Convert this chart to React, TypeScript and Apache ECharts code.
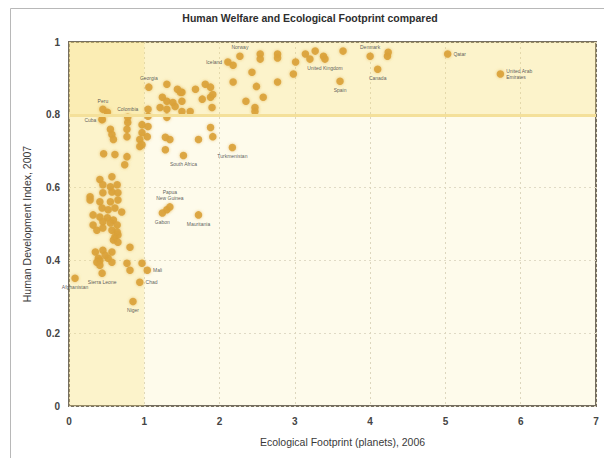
import React, { useEffect, useRef } from "react";
import * as echarts from "echarts";

// Ecological Footprint (planets), 2006  /  Human Development Index, 2007
const footprint = [
  2.18, 2.54, 2.54, 2.77, 2.77, 3.01, 3.14, 2.43, 2.18, 2.49, 2.77, 2.98, 2.35, 2.58, 2.47, 2.47,
  1.90, 1.68, 1.81, 1.88, 1.77, 1.88, 1.91, 1.61, 1.50, 1.50, 1.88, 1.91, 1.72,
  1.30, 1.44, 1.48, 1.24, 1.30, 1.38, 1.21, 1.30, 1.41, 1.50, 1.30, 1.05, 1.05,
  0.78, 0.77, 0.97, 1.05, 0.97, 1.04, 0.51, 0.44, 0.55, 0.57, 0.59, 0.77, 0.94, 0.94,
  1.28, 1.34, 0.46, 0.61, 0.77, 0.74, 1.28, 0.97,
  3.20, 3.27, 3.38, 3.64, 4.23, 4.24,
  0.41, 0.57, 0.45, 0.55, 0.64, 0.45, 0.57, 0.65, 0.28, 0.28, 0.41, 0.55, 0.65,
  0.44, 0.52, 0.61, 0.70, 0.32, 0.41, 0.51, 0.59, 0.32, 0.45, 0.55, 0.64,
  0.37, 0.45, 0.57, 0.64, 0.61, 0.65, 0.59, 0.65, 0.81, 0.35, 0.45, 0.57, 0.39, 0.52,
  1.30,
  0.41, 0.48, 0.57, 0.37, 0.41, 0.77, 0.81, 0.97,
];
const hdi = [
  0.936, 0.967, 0.953, 0.967, 0.956, 0.945, 0.967, 0.917, 0.890, 0.878, 0.890, 0.912, 0.837, 0.848, 0.820, 0.809,
  0.820, 0.870, 0.884, 0.876, 0.843, 0.848, 0.856, 0.809, 0.862, 0.837, 0.765, 0.740, 0.732,
  0.884, 0.870, 0.862, 0.848, 0.837, 0.834, 0.820, 0.815, 0.823, 0.809, 0.793, 0.815, 0.796,
  0.779, 0.760, 0.773, 0.768, 0.751, 0.740, 0.807, 0.787, 0.760, 0.746, 0.732, 0.740, 0.732, 0.713,
  0.738, 0.732, 0.693, 0.691, 0.685, 0.663, 0.704, 0.718,
  0.953, 0.975, 0.961, 0.975, 0.961, 0.972,
  0.622, 0.630, 0.608, 0.602, 0.608, 0.586, 0.588, 0.586, 0.575, 0.566, 0.561, 0.561, 0.566,
  0.544, 0.539, 0.544, 0.533, 0.525, 0.519, 0.517, 0.511, 0.497, 0.506, 0.503, 0.497,
  0.483, 0.489, 0.483, 0.478, 0.464, 0.470, 0.456, 0.450, 0.436, 0.423, 0.428, 0.423, 0.406, 0.406,
  0.539,
  0.400, 0.414, 0.395, 0.395, 0.387, 0.392, 0.373, 0.392,
];

// Labelled countries
const labelNames = [
  "Norway", "Iceland", "Georgia", "Peru", "Colombia", "Cuba", "Turkmenistan", "South Africa",
  "Papua\nNew Guinea", "Gabon", "Mauritania", "Sierra Leone", "Afghanistan", "Mali", "Chad", "Niger",
  "United Kingdom", "Spain", "Denmark", "Canada", "Qatar", "United Arab\nEmirates",
];
const labelFootprint = [
  2.27, 2.11, 1.06, 0.45, 0.78, 0.44, 2.17, 1.52,
  1.34, 1.24, 1.72, 0.44, 0.08, 1.04, 0.94, 0.85,
  3.40, 3.60, 4.00, 4.10, 5.03, 5.73,
];
const labelHdi = [
  0.961, 0.945, 0.876, 0.815, 0.793, 0.787, 0.710, 0.688,
  0.547, 0.530, 0.525, 0.365, 0.351, 0.373, 0.340, 0.287,
  0.953, 0.892, 0.961, 0.925, 0.967, 0.912,
];

const xTicks = ["0", "1", "2", "3", "4", "5", "6", "7"];
const yTicks = ["0", "0.2", "0.4", "0.6", "0.8", "1"];

// label placement (style only)
const labelPlacement: Record<string, { position: string; offset?: number[] }> = {
  Norway: { position: "top", offset: [0, -1] },
  Iceland: { position: "left", offset: [0, -6] },
  Georgia: { position: "top", offset: [-3, 0] },
  Peru: { position: "top", offset: [-2, 0] },
  Colombia: { position: "top", offset: [0, -4] },
  Cuba: { position: "left", offset: [2, 8] },
  Turkmenistan: { position: "bottom" },
  "South Africa": { position: "bottom" },
  "Papua\nNew Guinea": { position: "top", offset: [4, -2] },
  Gabon: { position: "bottom", offset: [-3, 0] },
  Mauritania: { position: "bottom", offset: [-4, 0] },
  "Sierra Leone": { position: "bottom" },
  Afghanistan: { position: "bottom", offset: [12, 0] },
  Mali: { position: "right" },
  Chad: { position: "right" },
  Niger: { position: "bottom" },
  "United Kingdom": { position: "bottom", offset: [14, 0] },
  Spain: { position: "bottom" },
  Denmark: { position: "top", offset: [-4, 0] },
  Canada: { position: "bottom" },
  Qatar: { position: "right" },
  "United Arab\nEmirates": { position: "right" },
};

const FONT = "'Liberation Sans', Arial, sans-serif";
const DOT = "#daa23a";

export default function App() {
  const ref = useRef<HTMLDivElement>(null);
  useEffect(() => {
    if (!ref.current) return;
    const chart = echarts.init(ref.current, null, { renderer: "svg" });
    const points = footprint.map((x, i) => [x, hdi[i]]);
    const labelled = labelNames.map((n, i) => {
      const p = labelPlacement[n] || { position: "right" };
      return {
        name: n,
        value: [labelFootprint[i], labelHdi[i]],
        label: {
          show: true,
          formatter: n,
          position: p.position,
          offset: p.offset || [0, 0],
          distance: 2,
          fontSize: 5,
          lineHeight: 6,
          color: "#4a4a4a",
          fontFamily: FONT,
        },
      };
    });
    const dotStyle = {
      color: DOT,
      opacity: 0.9,
      shadowBlur: 3,
      shadowColor: "rgba(215,155,45,0.6)",
    };
    chart.setOption({
      animation: false,
      backgroundColor: "#ffffff",
      graphic: [
        {
          type: "rect",
          shape: { x: 10.5, y: 8.5, width: 600, height: 470 },
          style: { fill: "none", stroke: "#b8b8b8", lineWidth: 1 },
          z: -10,
        },
        {
          type: "text",
          x: 310,
          y: 18,
          style: {
            text: "Human Welfare and Ecological Footprint compared",
            textAlign: "center",
            textVerticalAlign: "middle",
            fontSize: 10.5,
            fontWeight: "bold",
            fill: "#2e2e2e",
            fontFamily: FONT,
          },
        },
      ],
      grid: {
        left: 69,
        right: 8,
        top: 42,
        bottom: 52,
        show: true,
        backgroundColor: "#fefbeb",
        borderColor: "#756e60",
        borderWidth: 2,
      },
      xAxis: {
        type: "value",
        min: 0,
        max: 7,
        interval: 1,
        name: "Ecological Footprint (planets), 2006",
        nameLocation: "middle",
        nameGap: 30,
        nameTextStyle: { fontSize: 10.5, color: "#3a3a3a", fontFamily: FONT, padding: [0, 0, 0, 20] },
        axisLine: { show: false },
        axisTick: { show: false },
        axisLabel: {
          fontSize: 10,
          fontWeight: "bold",
          color: "#444",
          fontFamily: FONT,
          margin: 10,
          formatter: (v: number) => xTicks[Math.round(v)] ?? String(v),
        },
        splitLine: { show: true, lineStyle: { color: "#ddd6bd", type: [2, 3], width: 1 } },
      },
      yAxis: {
        type: "value",
        min: 0,
        max: 1,
        interval: 0.2,
        name: "Human Development Index, 2007",
        nameLocation: "middle",
        nameGap: 37,
        nameTextStyle: { fontSize: 10.5, color: "#3a3a3a", fontFamily: FONT },
        axisLine: { show: false },
        axisTick: { show: false },
        axisLabel: {
          fontSize: 10,
          fontWeight: "bold",
          color: "#444",
          fontFamily: FONT,
          margin: 9,
          formatter: (v: number) => yTicks[Math.round(v * 5)] ?? String(v),
        },
        splitLine: { show: true, lineStyle: { color: "#e0dac5", type: [2, 3], width: 1 } },
      },
      series: [
        {
          type: "scatter",
          name: "background",
          data: [],
          silent: true,
          markArea: {
            silent: true,
            itemStyle: { color: "rgba(247,222,120,0.27)" },
            data: [
              [{ xAxis: 0, yAxis: 0 }, { xAxis: 1, yAxis: 1 }],
              [{ xAxis: 0, yAxis: 0.8 }, { xAxis: 7, yAxis: 1 }],
            ],
          },
          markLine: {
            silent: true,
            symbol: "none",
            label: { show: false },
            lineStyle: { color: "#f4e09a", width: 3, type: "solid" },
            data: [{ yAxis: 0.8 }],
          },
          z: 1,
        },
        {
          type: "scatter",
          name: "countries",
          data: points,
          symbolSize: 7.5,
          itemStyle: dotStyle,
          z: 3,
        },
        {
          type: "scatter",
          name: "labelled",
          data: labelled,
          symbolSize: 7.5,
          itemStyle: dotStyle,
          labelLayout: { hideOverlap: false },
          z: 4,
        },
      ],
    });
    return () => chart.dispose();
  }, []);
  return (
    <div
      ref={ref}
      style={{ position: "fixed", left: 0, top: 0, width: 604, height: 458 }}
    />
  );
}
